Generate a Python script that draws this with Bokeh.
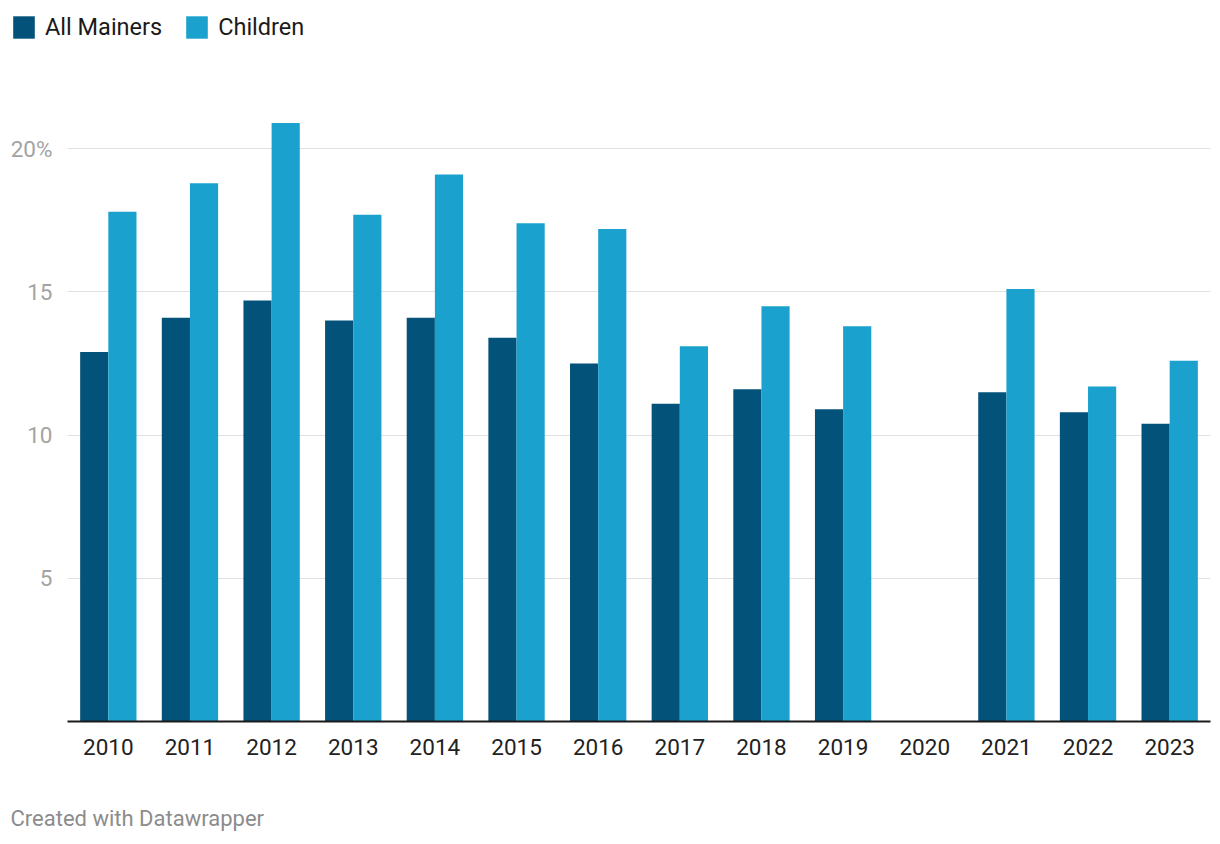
from bokeh.plotting import figure
from bokeh.models import (ColumnDataSource, FactorRange, Range1d, FixedTicker,
                          Legend, LegendItem, Label)
from bokeh.layouts import column
from bokeh.transform import dodge
from bokeh.embed import file_html
from bokeh.resources import INLINE

years = ["2010", "2011", "2012", "2013", "2014", "2015", "2016", "2017",
         "2018", "2019", "2020", "2021", "2022", "2023"]
all_mainers = [12.9, 14.1, 14.7, 14.0, 14.1, 13.4, 12.5, 11.1, 11.6, 10.9,
               float("nan"), 11.5, 10.8, 10.4]
children = [17.8, 18.8, 20.9, 17.7, 19.1, 17.4, 17.2, 13.1, 14.5, 13.8,
            float("nan"), 15.1, 11.7, 12.6]
y_ticks = [5, 10, 15, 20]
series_names = ["All Mainers", "Children"]

DARK = "#03527A"
LIGHT = "#1AA1CE"
FONT = "Roboto"
W = 1212


def bare(fig):
    fig.outline_line_color = None
    fig.background_fill_color = "white"
    fig.border_fill_color = "white"
    fig.xgrid.visible = False
    fig.ygrid.visible = False
    return fig


# ---- legend strip ----
lf = bare(figure(width=W, height=55, x_range=Range1d(0, 1), y_range=Range1d(0, 1),
                 x_axis_type=None, y_axis_type=None, output_backend="svg",
                 toolbar_location=None, min_border=0, frame_align=False))
d1 = lf.vbar(x=[5], top=[0], width=0.5, color=DARK, line_color=None)
d2 = lf.vbar(x=[5], top=[0], width=0.5, color=LIGHT, line_color=None)
legend = Legend(items=[LegendItem(label=series_names[0], renderers=[d1]),
                       LegendItem(label=series_names[1], renderers=[d2])],
                location=(10, 14), orientation="horizontal",
                glyph_width=27, glyph_height=28, label_standoff=8,
                spacing=21, padding=0, margin=0,
                border_line_color=None, background_fill_alpha=0,
                label_text_font=FONT, label_text_font_size="23.5px",
                label_text_color="#1a1a1a")
lf.add_layout(legend, "center")

# ---- main chart ----
src = ColumnDataSource(dict(year=years, all=all_mainers, child=children))

p = figure(x_range=FactorRange(*years, range_padding=0),
           y_range=Range1d(0, 22.0),
           width=W, height=735, output_backend="svg",
           toolbar_location=None, frame_align=False,
           min_border_left=67, min_border_right=2,
           min_border_top=36, min_border_bottom=69)
p.outline_line_color = None
p.background_fill_color = "white"
p.border_fill_color = "white"

p.vbar(x=dodge("year", -0.1725, range=p.x_range), top="all", width=0.345,
       source=src, color=DARK, line_color=None)
p.vbar(x=dodge("year", 0.1725, range=p.x_range), top="child", width=0.345,
       source=src, color=LIGHT, line_color=None)

p.xgrid.grid_line_color = None
p.ygrid.ticker = FixedTicker(ticks=y_ticks)
p.ygrid.grid_line_color = "#e0e0e0"
p.ygrid.grid_line_width = 1

ya = p.yaxis[0]
ya.ticker = FixedTicker(ticks=y_ticks)
ya.major_label_overrides = {20: "20%"}
ya.axis_line_color = None
ya.major_tick_line_color = None
ya.minor_tick_line_color = None
ya.major_label_standoff = 9
ya.major_label_text_font = FONT
ya.major_label_text_font_size = "22.5px"
ya.major_label_text_color = "#a3a3a3"

xa = p.xaxis[0]
xa.axis_line_color = "#1a1a1a"
xa.axis_line_width = 2
xa.major_tick_line_color = None
xa.minor_tick_line_color = None
xa.major_label_standoff = 11
xa.major_label_text_font = FONT
xa.major_label_text_font_size = "22.5px"
xa.major_label_text_color = "#222222"

# ---- footer strip ----
ff = bare(figure(width=W, height=54, x_range=Range1d(0, 1), y_range=Range1d(0, 1),
                 x_axis_type=None, y_axis_type=None, output_backend="svg",
                 toolbar_location=None, min_border=0, frame_align=False))
ff.add_layout(Label(x=10, y=26, x_units="screen", y_units="screen",
                    text="Created with Datawrapper", text_font=FONT,
                    text_font_size="22px", text_color="#8c8c8c",
                    text_baseline="middle"))

layout = column(lf, p, ff, spacing=0)
open("out.html", "w").write(file_html(layout, INLINE))
